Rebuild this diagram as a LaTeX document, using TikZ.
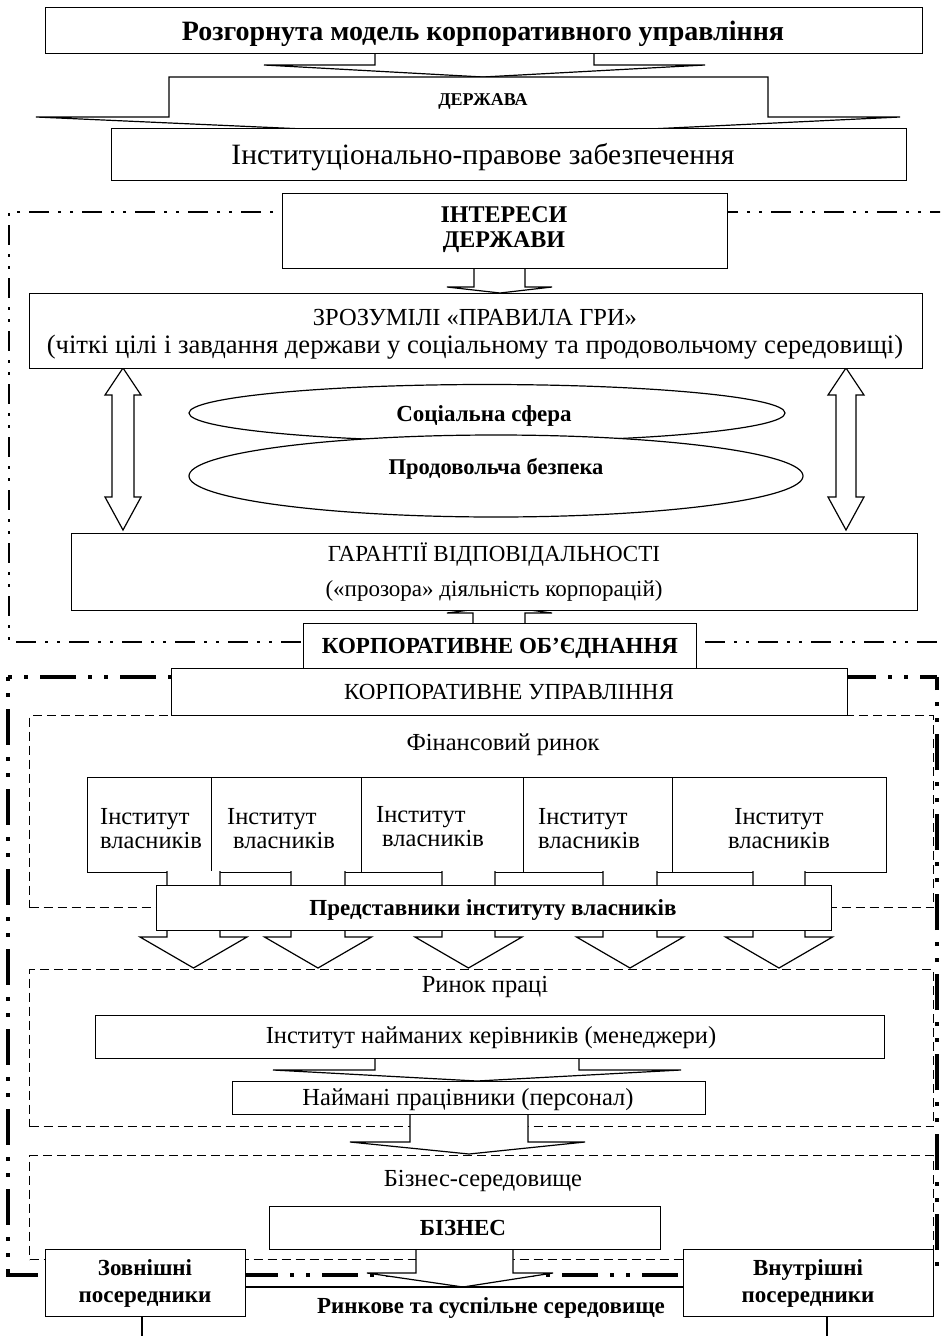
\documentclass[tikz,border=0pt]{standalone}
\usepackage{fontspec}
\setmainfont{Liberation Serif}
\newcommand\fsz[1]{\fontsize{#1}{#1}\selectfont}
\begin{document}
\begin{tikzpicture}[x=1pt,y=-1pt,
  box/.style={draw, fill=white, line width=1.2pt, inner sep=0, anchor=north west},
  arr/.style={draw, fill=white, line width=1.2pt, line join=miter},
  dbox/.style={draw, line width=1pt, dash pattern=on 9pt off 5pt, inner sep=0, anchor=north west},
  frameA/.style={line width=2pt, dash pattern=on 20pt off 9pt on 3pt off 9pt on 3pt off 9pt},
  frameB/.style={line width=4pt, dash pattern=on 36pt off 12pt on 4pt off 12pt on 4pt off 12pt, dash phase=48pt},
  tb/.style={inner sep=0, font=\fsz{23}\bfseries},
  tr/.style={inner sep=0, font=\fsz{24.5}},
  plain/.style={line width=1.2pt}
]
\useasboundingbox (0,0) rectangle (940,1336);
\clip (0,0) rectangle (940,1336);

% ---------- frames ----------
\draw[frameA] (950,212) -- (9,212) -- (9,642) -- (950,642);
\draw[frameB] (8,677) -- (8,1275) -- (937,1275) -- (937,677);
\draw[frameB] (8,677) -- (937,677);

% ---------- dashed areas ----------
\node[dbox, minimum width=904, minimum height=192] (fin) at (29,715) {};
\node[dbox, minimum width=904, minimum height=157] (labour) at (29,969) {};
\node[dbox, minimum width=904, minimum height=104] (busenv) at (29,1155) {};

% ---------- institutes ----------
\node[box, minimum width=124, minimum height=95] (i1) at (87,777) {};
\node[box, minimum width=150, minimum height=95] (i2) at (211,777) {};
\node[box, minimum width=162, minimum height=95] (i3) at (361,777) {};
\node[box, minimum width=149, minimum height=95] (i4) at (523,777) {};
\node[box, minimum width=214, minimum height=95] (i5) at (672,777) {};

\node[tr, anchor=base west] (i1a) at (100,824) {Інститут};
\node[tr, anchor=base west] (i1b) at (100,848) {власників};
\node[tr, anchor=base west] (i2a) at (227,824) {Інститут};
\node[tr, anchor=base west] (i2b) at (233,848) {власників};
\node[tr, anchor=base west] (i3a) at (376,822) {Інститут};
\node[tr, anchor=base west] (i3b) at (382,846) {власників};
\node[tr, anchor=base west] (i4a) at (538,824) {Інститут};
\node[tr, anchor=base west] (i4b) at (538,848) {власників};
\node[tr, anchor=base] (i5a) at (779,824) {Інститут};
\node[tr, anchor=base] (i5b) at (779,848) {власників};

% ---------- block arrows ----------
% title -> state
\filldraw[arr] (375,53) -- (375,65) -- (264,65) -- (483,77) -- (705,65) -- (594,65) -- (594,53);
% state arrow shape
\filldraw[arr] (169,77) -- (768,77) -- (768,117) -- (900,117) -- (483,137) -- (36,117) -- (169,117) -- cycle;
% interests -> rules
\filldraw[arr] (474,268) -- (474,287) -- (447,287) -- (500,293) -- (552,287) -- (525,287) -- (525,268);
% double arrows
\filldraw[arr] (123,368) -- (141,395) -- (134,395) -- (134,497) -- (141,497) -- (123,530) -- (105,497) -- (112,497) -- (112,395) -- (105,395) -- cycle;
\filldraw[arr] (846,368) -- (864,395) -- (856,395) -- (856,497) -- (864,497) -- (846,530) -- (828,497) -- (836,497) -- (836,395) -- (828,395) -- cycle;
% union -> guarantees
\filldraw[arr] (473,623) -- (473,613) -- (447,613) -- (500,606) -- (552,613) -- (525,613) -- (525,623);
% institutes -> representatives
\foreach \s/\e in {167/220, 291/345, 442/495, 603/657, 753/805}{
  \pgfmathsetmacro\c{(\s+\e)/2}
  \filldraw[arr] (\s,871) -- (\s,937) -- (\c-53.5,937) -- (\c,968) -- (\c+53.5,937) -- (\e,937) -- (\e,871);
}
% managers -> staff
\filldraw[arr] (375,1058) -- (375,1070) -- (273,1070) -- (477,1081) -- (681,1070) -- (579,1070) -- (579,1058);
% staff -> business env
\filldraw[arr] (410,1114) -- (410,1142) -- (350,1142) -- (469,1154) -- (585,1142) -- (528,1142) -- (528,1114);
% business -> market line
\filldraw[arr] (416,1249) -- (416,1273) -- (367,1273) -- (463,1287) -- (553,1273) -- (513,1273) -- (513,1249);

% ---------- solid boxes ----------
\node[box, minimum width=877, minimum height=46] (title) at (45,7) {};
\node[box, minimum width=795, minimum height=52] (instpr) at (111,128) {};
\node[box, minimum width=445, minimum height=75] (interests) at (282,193) {};
\node[box, minimum width=893, minimum height=75] (rules) at (29,293) {};
\draw[plain, fill=white] (487,413) ellipse [x radius=298pt, y radius=28.5pt];
\draw[plain, fill=white] (496,476) ellipse [x radius=307pt, y radius=41pt];
\node[box, minimum width=846, minimum height=77] (guar) at (71,533) {};
\node[box, minimum width=393, minimum height=45] (union) at (303,623) {};
\node[box, minimum width=676, minimum height=47] (cgov) at (171,668) {};
\node[box, minimum width=675, minimum height=45] (repr) at (156,885) {};
\node[box, minimum width=789, minimum height=43] (mgr) at (95,1015) {};
\node[box, minimum width=473, minimum height=33] (staff) at (232,1081) {};
\node[box, minimum width=391, minimum height=43] (bus) at (269,1206) {};
\node[box, minimum width=200, minimum height=67] (ext) at (45,1249) {};
\node[box, minimum width=250, minimum height=67] (int) at (683,1249) {};

\draw[plain] (ext.east |- 0,1287) -- (int.west |- 0,1287);
\draw[plain] (142,1316) -- (142,1340);
\draw[plain] (827,1316) -- (827,1340);

% ---------- texts ----------
\node[inner sep=0, font=\fsz{28}\bfseries, anchor=base] (titleT) at (483,40) {Розгорнута модель корпоративного управління};
\node[inner sep=0, font=\fsz{18}\bfseries, anchor=base] (stateT) at (483,105) {ДЕРЖАВА};
\node[inner sep=0, font=\fsz{29.5}, anchor=base] (instprT) at (483,164) {Інституціонально-правове забезпечення};
\node[inner sep=0, font=\fsz{24}\bfseries, anchor=base] (intT1) at (504,222) {ІНТЕРЕСИ};
\node[inner sep=0, font=\fsz{24}\bfseries, anchor=base] (intT2) at (504,247) {ДЕРЖАВИ};
\node[inner sep=0, font=\fsz{24.5}, anchor=base] (rulesT1) at (475,325) {ЗРОЗУМІЛІ «ПРАВИЛА ГРИ»};
\node[inner sep=0, font=\fsz{26.6}, anchor=base] (rulesT2) at (475,353) {(чіткі цілі і завдання держави у соціальному та продовольчому середовищі)};
\node[inner sep=0, font=\fsz{23}\bfseries, anchor=base] (socT) at (484,421) {Соціальна сфера};
\node[inner sep=0, font=\fsz{22.5}\bfseries, anchor=base] (foodT) at (496,474) {Продовольча безпека};
\node[inner sep=0, font=\fsz{23}, anchor=base] (guarT1) at (494,561) {ГАРАНТІЇ ВІДПОВІДАЛЬНОСТІ};
\node[inner sep=0, font=\fsz{23}, anchor=base] (guarT2) at (494,596) {(«прозора» діяльність корпорацій)};
\node[inner sep=0, font=\fsz{23}\bfseries, anchor=base] (unionT) at (500,653) {КОРПОРАТИВНЕ ОБ’ЄДНАННЯ};
\node[inner sep=0, font=\fsz{23}, anchor=base] (cgovT) at (509,699) {КОРПОРАТИВНЕ УПРАВЛІННЯ};
\node[tr, anchor=base] (finT) at (503,750) {Фінансовий ринок};
\node[tb, anchor=base] (reprT) at (493,915) {Представники інституту власників};
\node[tr, anchor=base] (labT) at (485,992) {Ринок праці};
\node[tr, anchor=base] (mgrT) at (491,1043) {Інститут найманих керівників (менеджери)};
\node[tr, anchor=base] (staffT) at (468,1105) {Наймані працівники (персонал)};
\node[tr, anchor=base] (busenvT) at (483,1186) {Бізнес-середовище};
\node[tb, anchor=base] (busT) at (463,1235) {БІЗНЕС};
\node[tb, anchor=base] (extT1) at (145,1275) {Зовнішні};
\node[tb, anchor=base] (extT2) at (145,1302) {посередники};
\node[tb, anchor=base] (intT1b) at (808,1275) {Внутрішні};
\node[tb, anchor=base] (intT2b) at (808,1302) {посередники};
\node[tb, anchor=base] (marketT) at (491,1313) {Ринкове та суспільне середовище};
\end{tikzpicture}
\end{document}
